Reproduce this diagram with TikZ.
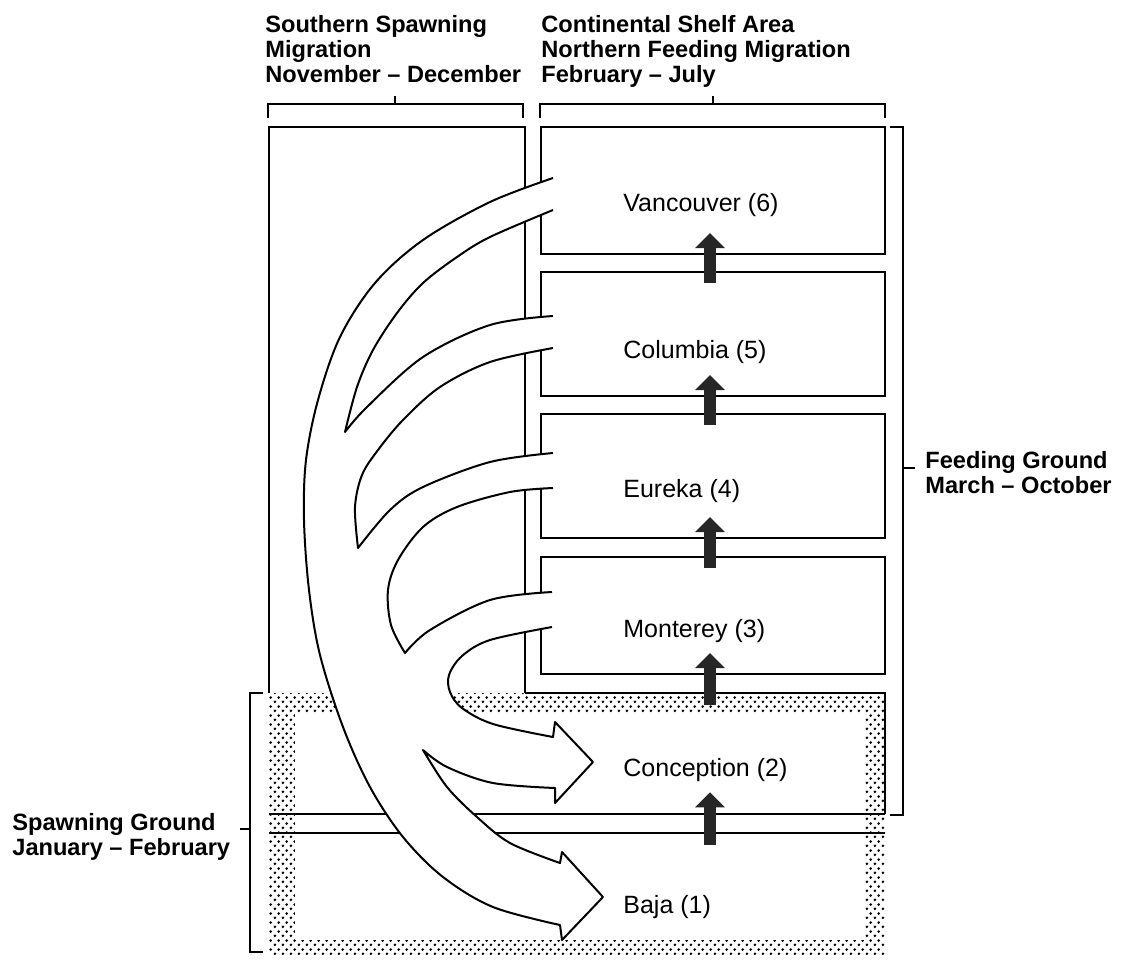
\documentclass[tikz,border=0pt]{standalone}
\usepackage{fontspec}
\setmainfont{Liberation Sans}
\usepackage{tikz}
\usetikzlibrary{arrows.meta, calc, patterns}

\pgfdeclarepatternformonly{stipple}{\pgfqpoint{0pt}{0pt}}{\pgfqpoint{3.9pt}{4.4pt}}{\pgfqpoint{3.9pt}{4.4pt}}{%
  \pgfpathcircle{\pgfqpoint{0.975pt}{1.1pt}}{0.75pt}%
  \pgfpathcircle{\pgfqpoint{2.925pt}{3.3pt}}{0.75pt}%
  \pgfusepath{fill}}

% stream edges, pixel grid with y going down; #1 joins a piece to the one before
\newcommand{\streamA}[1]{#1 plot[smooth,tension=0.55] coordinates {(553,178) (490,202) (423,240) (375,283) (340,337) (318,400) (306,460) (304,520) (309,590) (320,655) (343,727) (370,787) (403,837) (443,877) (493,907) (560,925)}
  -- (562,940) -- (603,897) -- (562,852)
  -- plot[smooth,tension=0.55] coordinates {(560,863) (510,843) (477,817) (447,787) (423,750)}
  -- plot[smooth,tension=0.55] coordinates {(423,750) (447,767) (493,783) (555,788)}
  -- (555,803) -- (593,762) -- (555,722)
  -- plot[smooth,tension=0.55] coordinates {(553,737) (493,724) (462,708) (450,692) (449,675) (462,656) (490,640) (552,627)}}
\newcommand{\streamB}[1]{#1 plot[smooth,tension=0.55] coordinates {(552,592) (490,600) (430,630) (405,653)}
  -- plot[smooth,tension=0.55] coordinates {(405,653) (391,625) (388,590) (398,560) (423,527) (457,507) (510,492) (553,488)}}
\newcommand{\streamC}[1]{#1 plot[smooth,tension=0.55] coordinates {(553,453) (490,462) (423,487) (390,510) (358,548)}
  -- plot[smooth,tension=0.55] coordinates {(358,548) (355,507) (362,475) (378,450) (403,420) (440,387) (490,362) (553,348)}}
\newcommand{\streamD}[1]{#1 plot[smooth,tension=0.55] coordinates {(553,316) (490,325) (423,357) (367,407) (345,432)}
  -- plot[smooth,tension=0.55] coordinates {(345,432) (357,387) (373,350) (397,313) (423,283) (457,257) (490,237) (553,210)}}

\begin{document}
\begin{tikzpicture}[x=0.5pt, y=-0.5pt,
  region/.style={draw, line width=1pt, minimum width=172pt, inner sep=0pt},
  ground/.style={minimum width=308pt, minimum height=60.5pt, inner sep=0pt},
  boxlabel/.style={anchor=base west, inner sep=0pt, font=\fontsize{12.5}{14}\selectfont},
  heading/.style={anchor=base west, align=left, inner sep=0pt, font=\fontsize{11.8}{12.5}\selectfont\bfseries},
  upflow/.style={line width=6pt, draw=black!85, -{Triangle[length=7.5pt,width=14.5pt]}},
  bracket/.style={line width=0.8pt}]
  \useasboundingbox (0,0) rectangle (1122,964);

  % Spawning ground (stippled)
  \fill[pattern=stipple, pattern color=black] (269,693) rectangle (885,954);
  \fill[white] (295,713) rectangle (865,940);
  \node[ground] (conc) at (577,753.5) {};
  \node[ground] (baja) at (577,893.5) {};
  \draw[line width=1pt] (269,814) -- (885,814);
  \draw[line width=1pt] (269,833) -- (885,833);
  \draw[line width=1pt] (885,814) -- (885,693) -- (525,693);

  % Southern column
  \draw[line width=1pt] (269,693) -- (269,127) -- (525,127) -- (525,693);

  % Continental shelf boxes
  \node[region, minimum height=63.5pt] (vanc) at (713,190.5) {};
  \node[region, minimum height=62pt] (colu) at (713,334) {};
  \node[region, minimum height=62pt] (eure) at (713,476) {};
  \node[region, minimum height=58.5pt] (mont) at (713,615.5) {};

  % Migration stream
  \fill[white] \streamA{} \streamB{--} \streamC{--} \streamD{--} -- cycle;
  \draw[line width=1pt, line join=round] \streamA{};
  \draw[line width=1pt, line join=round] \streamB{};
  \draw[line width=1pt, line join=round] \streamC{};
  \draw[line width=1pt, line join=round] \streamD{};

  % Northern feeding migration
  \draw[upflow] ($(colu.north)+(-1.5pt,-6pt)$) -- ($(vanc.south)+(-1.5pt,11pt)$);
  \draw[upflow] ($(eure.north)+(-1.5pt,-6pt)$) -- ($(colu.south)+(-1.5pt,11pt)$);
  \draw[upflow] ($(mont.north)+(-1.5pt,-6pt)$) -- ($(eure.south)+(-1.5pt,11pt)$);
  \draw[upflow] ($(conc.north -| mont.north)+(-1.5pt,-6pt)$) -- ($(mont.south)+(-1.5pt,11pt)$);
  \draw[upflow] ($(baja.north -| mont.north)+(-1.5pt,-6pt)$) -- ($(conc.south -| mont.north)+(-1.5pt,11pt)$);

  % Area names
  \node[boxlabel] (vancname) at (623,211) {Vancouver (6)};
  \node[boxlabel] (coluname) at (623,358) {Columbia (5)};
  \node[boxlabel] (eurename) at (623,497) {Eureka (4)};
  \node[boxlabel] (montname) at (623,637) {Monterey (3)};
  \node[boxlabel] (concname) at (623,776) {Conception (2)};
  \node[boxlabel] (bajaname) at (623,913) {Baja (1)};

  % Brackets
  \draw[bracket] (268,118) -- (268,104) -- (523,104) -- (523,118);
  \draw[bracket] (395,104) -- (395,96);
  \draw[bracket] (540,118) -- (540,104) -- (885,104) -- (885,118);
  \draw[bracket] (713,104) -- (713,96);
  \draw[bracket] (890,127) -- (903,127) -- (903,815) -- (890,815);
  \draw[bracket] (903,468) -- (915,468);
  \draw[bracket] (263,693) -- (250,693) -- (250,952) -- (263,952);
  \draw[bracket] (250,829) -- (240,829);

  % Headings (base is the last line)
  \node[heading] (southhead) at (265,82) {Southern Spawning\\Migration\\November – December};
  \node[heading] (shelfhead) at (541,82) {Continental Shelf Area\\Northern Feeding Migration\\February – July};
  \node[heading] (feedhead) at (925,493) {Feeding Ground\\March – October};
  \node[heading] (spawnhead) at (12,855) {Spawning Ground\\January – February};
\end{tikzpicture}
\end{document}
